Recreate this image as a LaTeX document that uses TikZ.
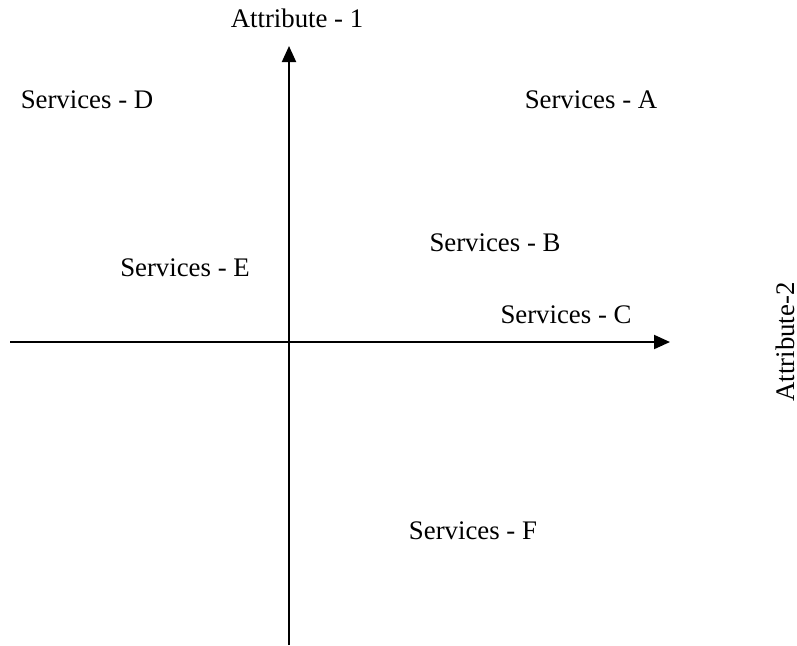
\documentclass[tikz,border=0pt]{standalone}
\usepackage{fontspec}
\setmainfont{Liberation Serif}
\usetikzlibrary{arrows.meta, positioning}

\begin{document}
\begin{tikzpicture}
	[   x=0.5pt, y=-0.5pt,
		lbl/.style={font=\fontsize{13.4}{16}\selectfont, inner sep=0pt},
	]
	\tikzset{axis arrow/.style={draw, line width=1pt, -{Triangle[length=8pt,width=7pt]}}}
	\useasboundingbox (0,0) rectangle (797,645);

	% axes
	\coordinate (v-bot) at (289,645);
	\coordinate (v-top) at (289,46);
	\coordinate (h-left) at (10,342);
	\coordinate (h-right) at (670,342);
	\path[axis arrow] (v-bot) -- (v-top);
	\path[axis arrow] (h-left) -- (h-right);

	\node[lbl] (att-1) at (297,18) {Attribute - 1};
	\node[lbl,rotate=90] (att-2) at (785,342) {Attribute-2};

	\node[lbl] (s-d) at (87,100) {Services - D};
	\node[lbl] (s-a) at (591,100) {Services - A};
	\node[lbl] (s-b) at (495,243) {Services - B};
	\node[lbl] (s-e) at (185,268) {Services - E};
	\node[lbl] (s-c) at (566,315) {Services - C};
	\node[lbl] (s-f) at (473,531) {Services - F};

\end{tikzpicture}
\end{document}
